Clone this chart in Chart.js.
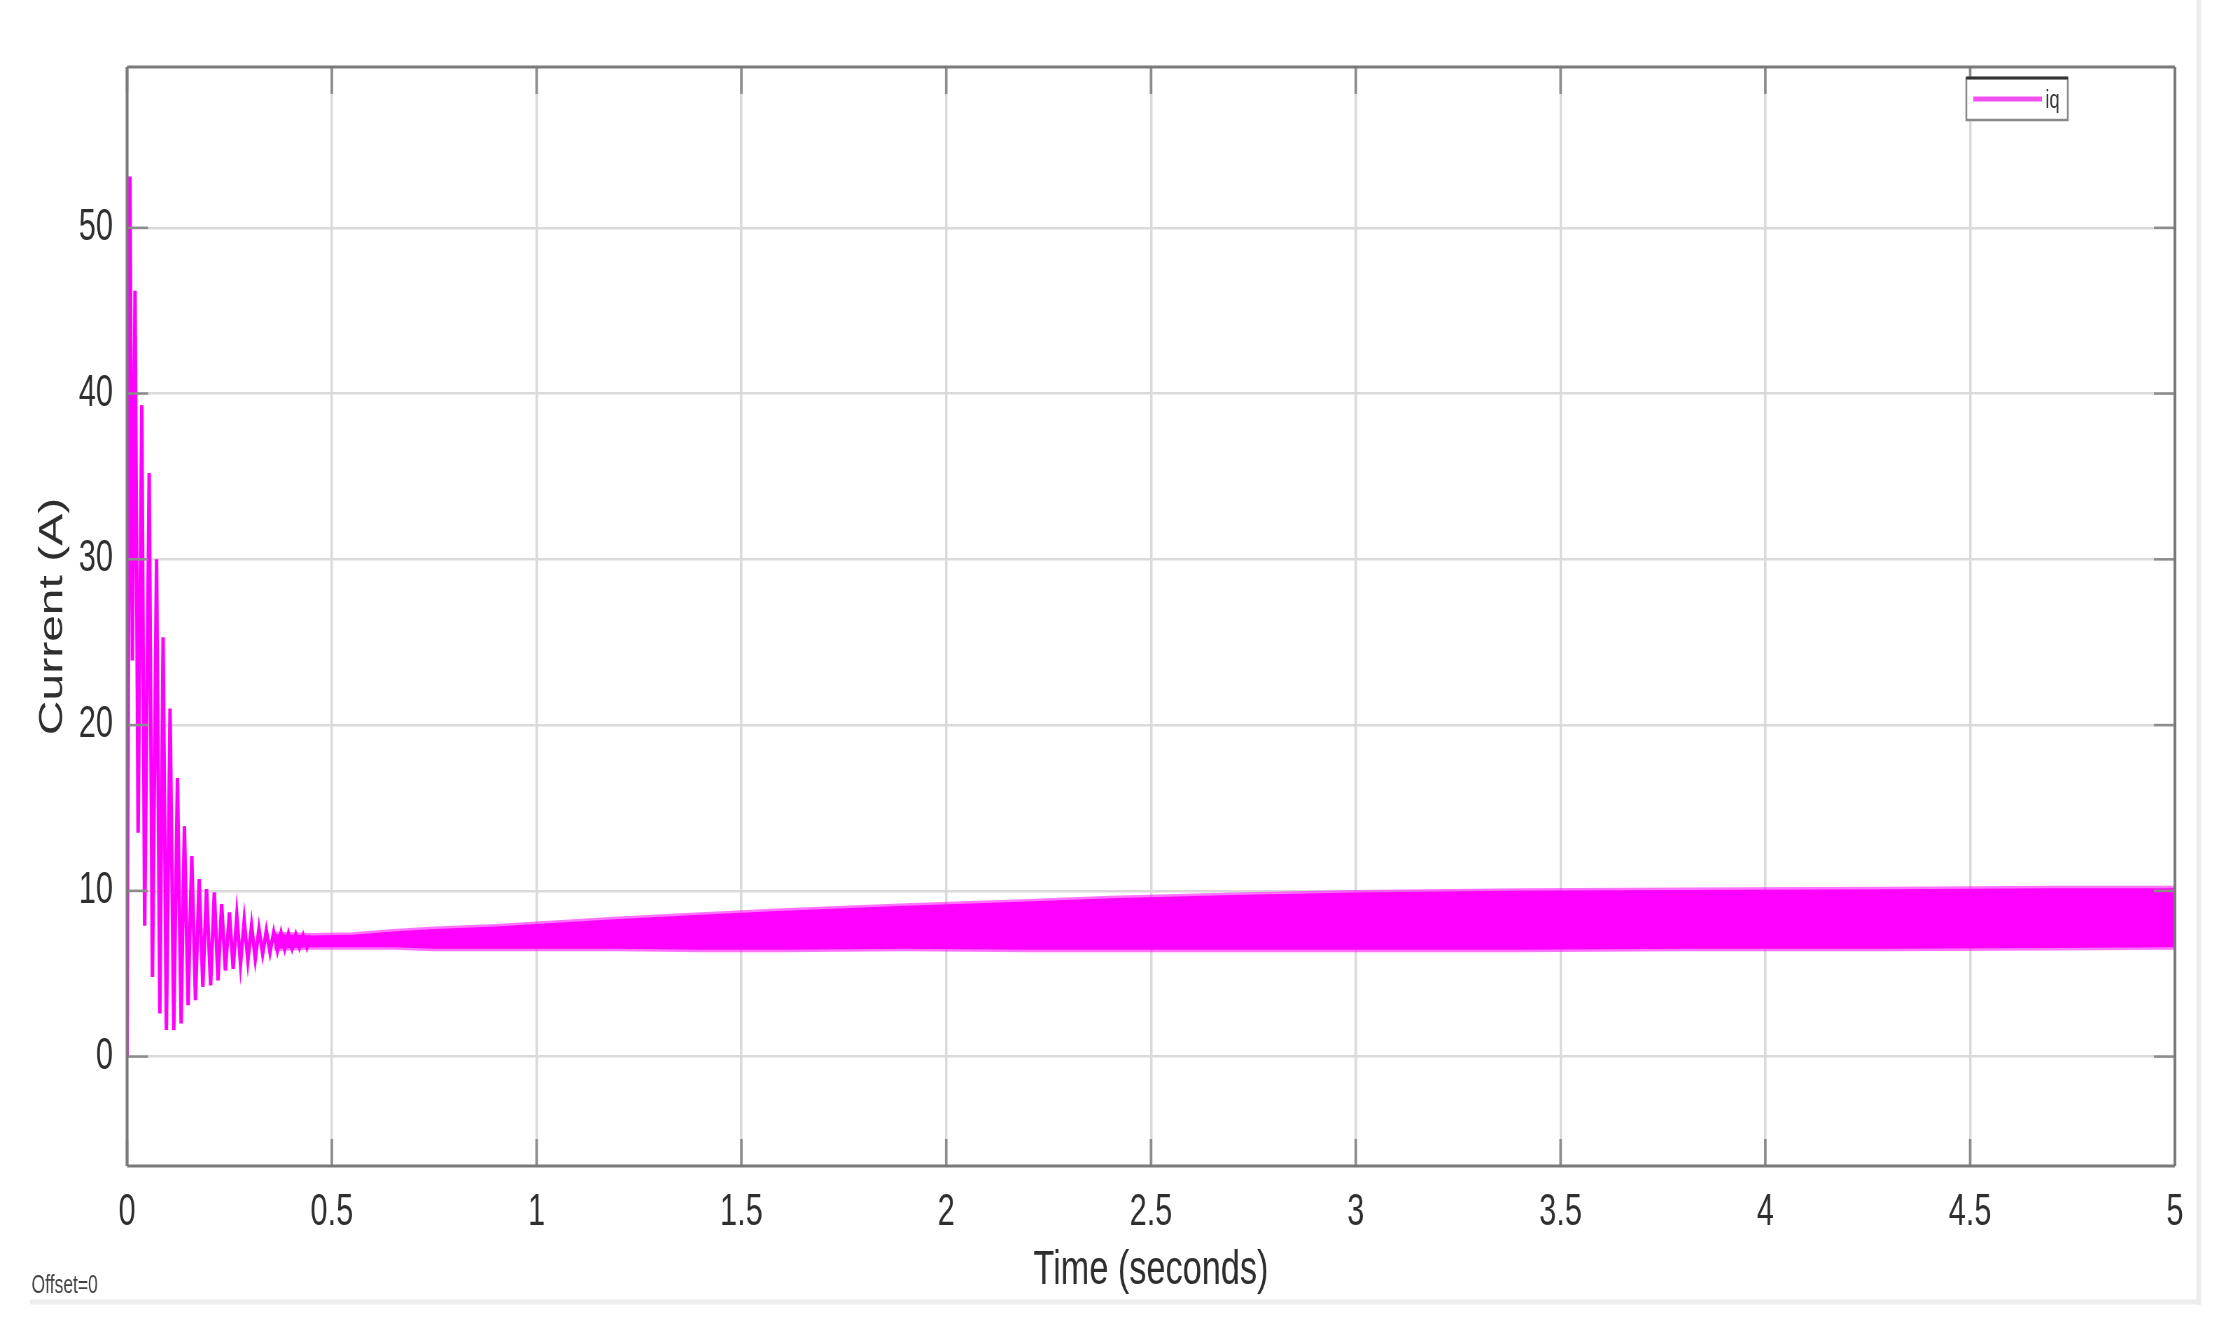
<!DOCTYPE html>
<html><head><meta charset="utf-8">
<script src="https://cdn.jsdelivr.net/npm/chart.js@4/dist/chart.umd.min.js"></script>
<style>
html,body{margin:0;padding:0;background:#fff;overflow:hidden;}
#wrap{width:2226px;height:1335px;overflow:hidden;position:relative;background:#fff;}
#c{position:absolute;left:0;top:0;transform:scaleX(0.7);transform-origin:0 0;}
</style></head>
<body><div id="wrap"><canvas id="c" width="3180" height="1335"></canvas></div>
<script>
// ---- data ----
const seriesName = 'iq';
// transient: alternating peaks / troughs (s, A)
const transientTime = [0, 0.007, 0.013, 0.0195, 0.027, 0.036, 0.043, 0.054, 0.062, 0.072, 0.080, 0.088, 0.096, 0.105, 0.114, 0.123, 0.132, 0.140, 0.149, 0.158, 0.167, 0.176, 0.185, 0.194, 0.204, 0.213, 0.222, 0.231, 0.240, 0.250, 0.259, 0.268, 0.277, 0.286, 0.295, 0.304, 0.313, 0.322, 0.331, 0.340, 0.349, 0.358, 0.367, 0.376, 0.385, 0.394, 0.403, 0.412, 0.421, 0.430, 0.439, 0.448];
const transientCurrent = [0, 53.1, 23.9, 46.2, 13.5, 39.3, 7.9, 35.2, 4.8, 30.0, 2.6, 25.3, 1.6, 21.0, 1.6, 16.8, 2.0, 13.9, 3.1, 12.1, 3.4, 10.7, 4.2, 10.1, 4.3, 9.9, 4.6, 9.2, 5.2, 8.7, 5.3, 8.5, 5.6, 8.2, 5.8, 7.9, 5.9, 7.7, 6.2, 7.6, 6.3, 7.5, 6.4, 7.45, 6.5, 7.4, 6.55, 7.35, 6.6, 7.3, 6.6, 7.3];
// steady oscillation band: upper / lower envelope (s, A)
const bandTime  = [0.36, 0.45, 0.55, 0.65, 0.75, 0.90, 1.00, 1.20, 1.40, 1.60, 1.90, 2.20, 2.40, 2.70, 3.00, 3.40, 3.80, 4.30, 4.70, 5.00];
const bandUpper = [7.40, 7.30, 7.35, 7.55, 7.70, 7.85, 8.00, 8.30, 8.55, 8.80, 9.10, 9.35, 9.55, 9.75, 9.90, 10.00, 10.05, 10.10, 10.15, 10.15];
const bandLower = [6.50, 6.60, 6.60, 6.60, 6.50, 6.50, 6.50, 6.50, 6.45, 6.45, 6.50, 6.45, 6.45, 6.45, 6.45, 6.45, 6.50, 6.50, 6.55, 6.60];
const xTicks = [0, 0.5, 1, 1.5, 2, 2.5, 3, 3.5, 4, 4.5, 5];
const xTickLabels = ['0', '0.5', '1', '1.5', '2', '2.5', '3', '3.5', '4', '4.5', '5'];
const yTicks = [0, 10, 20, 30, 40, 50];
const yTickLabels = ['0', '10', '20', '30', '40', '50'];
const xRange = [0, 5];
const yRange = [-6.6, 59.7];
const xTitle = 'Time (seconds)';
const yTitle = 'Current (A)';
const offsetLabel = 'Offset=0';

const MAG = '#ff00ff';
const FONT = '"Liberation Sans", Arial, sans-serif';

function pts(xs, ys){ return xs.map((t,i)=>({x:t, y:ys[i]})); }
function lbl(list, labels){ return (v)=>{ const i = list.findIndex(a=>Math.abs(a-v)<1e-9); return i>=0 ? labels[i] : ''; }; }

const decor = {
  id: 'decor',
  afterDatasetsDraw(chart){
    const {ctx, chartArea:a, scales:{x, y}} = chart;
    const ln = (x1,y1,x2,y2)=>{ ctx.beginPath(); ctx.moveTo(x1,y1); ctx.lineTo(x2,y2); ctx.stroke(); };
    ctx.save();
    ctx.strokeStyle = '#8c8c8c';
    ctx.lineWidth = 2.5;
    yTicks.forEach(v=>{ const py = y.getPixelForValue(v); ln(a.left, py, a.left+30, py); ln(a.right-30, py, a.right, py); });
    ctx.lineWidth = 3.6;
    xTicks.forEach(v=>{ const px = x.getPixelForValue(v); ln(px, a.bottom, px, a.bottom-27); ln(px, a.top, px, a.top+27); });
    ctx.strokeStyle = '#7a7a7a';
    ctx.lineWidth = 3;
    ln(a.left, a.top, a.right, a.top); ln(a.left, a.bottom, a.right, a.bottom);
    ctx.lineWidth = 4;
    ln(a.left, a.top, a.left, a.bottom); ln(a.right, a.top, a.right, a.bottom);
    ctx.restore();
  },
  afterDraw(chart){
    const {ctx, chartArea:a} = chart;
    const ln = (x1,y1,x2,y2)=>{ ctx.beginPath(); ctx.moveTo(x1,y1); ctx.lineTo(x2,y2); ctx.stroke(); };
    ctx.save();
    // legend box
    const bx1 = a.right - 298, bx2 = a.right - 153, by1 = a.top + 11, by2 = a.top + 53;
    ctx.fillStyle = '#fff';
    ctx.fillRect(bx1, by1, bx2-bx1, by2-by1);
    ctx.strokeStyle = '#888'; ctx.lineWidth = 2.5;
    ctx.strokeRect(bx1, by1, bx2-bx1, by2-by1);
    ctx.strokeStyle = '#333'; ctx.lineWidth = 3;
    ln(bx1, by1, bx2, by1);
    ctx.strokeStyle = '#f050f0'; ctx.lineWidth = 5;
    ln(bx1+10, (by1+by2)/2, bx1+108, (by1+by2)/2);
    ctx.fillStyle = '#333'; ctx.font = '26px ' + FONT; ctx.textBaseline = 'middle'; ctx.textAlign = 'left';
    ctx.fillText(seriesName, bx1+113, (by1+by2)/2 + 2);
    // figure frame (right and bottom)
    ctx.strokeStyle = '#ededed'; ctx.lineWidth = 7;
    ln(3141, 0, 3141, 1305);
    ctx.lineWidth = 5;
    ln(43, 1302, 3141, 1302);
    // offset text
    ctx.fillStyle = '#444'; ctx.font = '25px ' + FONT; ctx.textBaseline = 'alphabetic';
    ctx.fillText(offsetLabel, 45, 1293);
    ctx.restore();
  }
};

new Chart(document.getElementById('c'), {
  type: 'line',
  data: {
    datasets: [
      { label: 'band-upper', data: pts(bandTime, bandUpper), borderColor: 'rgba(255,0,255,0.55)', borderWidth: 5, backgroundColor: MAG, fill: '+1', pointRadius: 0, tension: 0 },
      { label: 'band-lower', data: pts(bandTime, bandLower), borderColor: 'rgba(255,0,255,0.55)', borderWidth: 5, fill: false, pointRadius: 0, tension: 0 },
      { label: seriesName, data: pts(transientTime, transientCurrent), borderColor: MAG, borderWidth: 5, fill: false, pointRadius: 0, tension: 0 }
    ]
  },
  options: {
    responsive: false,
    devicePixelRatio: 1,
    animation: false,
    layout: { padding: { left: 47, right: 73, top: 67, bottom: 35 } },
    plugins: { legend: { display: false }, tooltip: { enabled: false } },
    scales: {
      x: {
        type: 'linear', min: xRange[0], max: xRange[1],
        afterBuildTicks: s => { s.ticks = xTicks.map(v=>({value:v})); },
        afterFit: s => { s.height = 134; },
        grid: { color: '#dadada', lineWidth: 3.5, drawTicks: false },
        border: { display: false },
        ticks: { callback: lbl(xTicks, xTickLabels), color: '#2e2e2e', font: { family: FONT, size: 44 }, padding: 20, maxRotation: 0, autoSkip: false },
        title: { display: true, text: xTitle, color: '#2e2e2e', font: { family: FONT, size: 49 }, padding: { top: 0, bottom: 0 } }
      },
      y: {
        type: 'linear', min: yRange[0], max: yRange[1],
        afterBuildTicks: s => { s.ticks = yTicks.map(v=>({value:v})); },
        afterFit: s => { s.width = 134.5; },
        grid: { color: '#dadada', lineWidth: 2.5, drawTicks: false },
        border: { display: false },
        ticks: { callback: lbl(yTicks, yTickLabels), color: '#2e2e2e', font: { family: FONT, size: 44 }, padding: 20, autoSkip: false },
        title: { display: true, text: yTitle, color: '#2e2e2e', font: { family: FONT, size: 48 }, padding: { top: 0, bottom: 0 } }
      }
    }
  },
  plugins: [decor]
});
</script>
</body></html>
